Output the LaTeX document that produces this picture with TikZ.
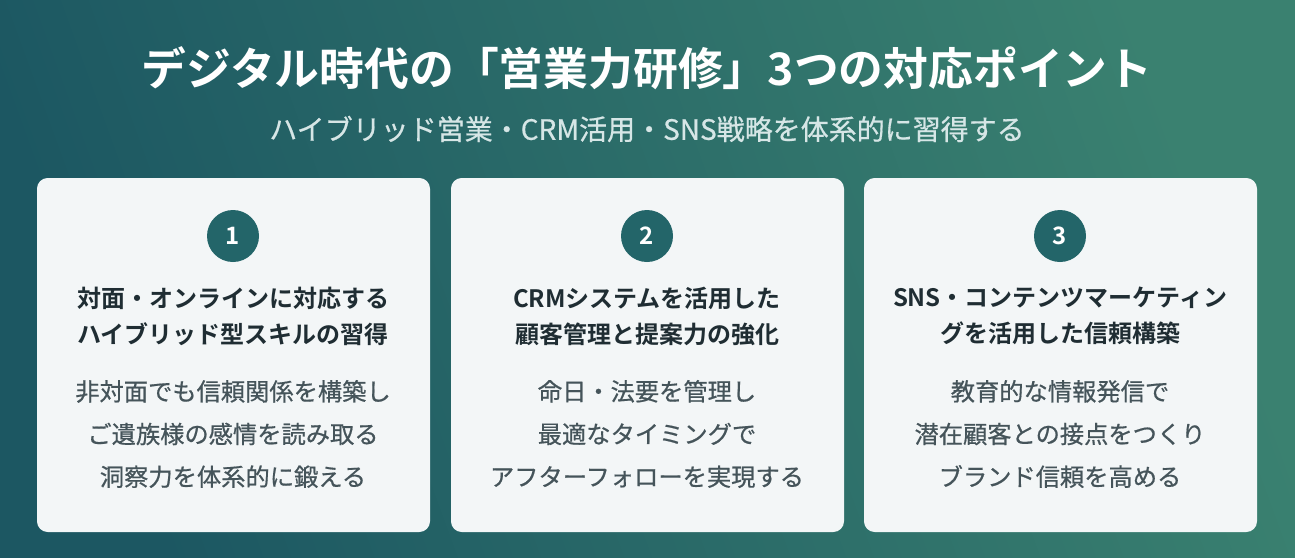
\documentclass[tikz,border=0pt]{standalone}
\usepackage{fontspec}
\newfontfamily\jp[FakeBold=0.6]{Noto Sans CJK JP}
\newfontfamily\jpb{Noto Sans CJK JP Bold}
\definecolor{bgA}{HTML}{1C5762}
\definecolor{bgB}{HTML}{3A8170}
\definecolor{card}{HTML}{F3F6F7}
\definecolor{circ}{HTML}{236569}
\definecolor{head}{HTML}{1F2D33}
\definecolor{body}{HTML}{45545A}
\definecolor{sub}{HTML}{D6E6E6}
\begin{document}
\begin{tikzpicture}[x=0.75pt,y=-0.75pt,
  cardbox/.style={fill=card,rounded corners=8pt},
  numc/.style={circle,fill=circ,minimum size=39pt,inner sep=0pt,text=white,font=\jpb\fontsize{18}{18}\selectfont},
  headtxt/.style={align=center,text=head,font=\jpb\fontsize{18}{27}\selectfont},
  bodytxt/.style={align=center,text=body,font=\jp\fontsize{18.2}{32}\selectfont}]
\shade[left color=bgA,right color=bgB,shading angle=110] (0,0) rectangle (1295,557);
\useasboundingbox (0,0) rectangle (1295,557);
\node[text=white,font=\jpb\fontsize{33.6}{34}\selectfont] (title) at (647,68) {デジタル時代の「営業力研修」3つの対応ポイント};
\node[text=sub,font=\jp\fontsize{21}{21}\selectfont] (subt) at (647,129) {ハイブリッド営業・CRM活用・SNS戦略を体系的に習得する};
\foreach \i/\x in {1/37,2/451,3/864}{
  \fill[cardbox] (\x,178) rectangle ++(393,354);
}
\node[numc] (n1) at (233,236) {1};
\node[numc] (n2) at (647,236) {2};
\node[numc] (n3) at (1060,236) {3};
\node[headtxt] (h1) at (233,316) {対面・オンラインに対応する\\ハイブリッド型スキルの習得};
\node[headtxt] (h2) at (647,316) {CRMシステムを活用した\\顧客管理と提案力の強化};
\node[headtxt] (h3) at (1060,316) {SNS・コンテンツマーケティン\\グを活用した信頼構築};
\node[bodytxt] (b1) at (233,434) {非対面でも信頼関係を構築し\\ご遺族様の感情を読み取る\\洞察力を体系的に鍛える};
\node[bodytxt] (b2) at (647,434) {命日・法要を管理し\\最適なタイミングで\\アフターフォローを実現する};
\node[bodytxt] (b3) at (1060,434) {教育的な情報発信で\\潜在顧客との接点をつくり\\ブランド信頼を高める};
\end{tikzpicture}
\end{document}
